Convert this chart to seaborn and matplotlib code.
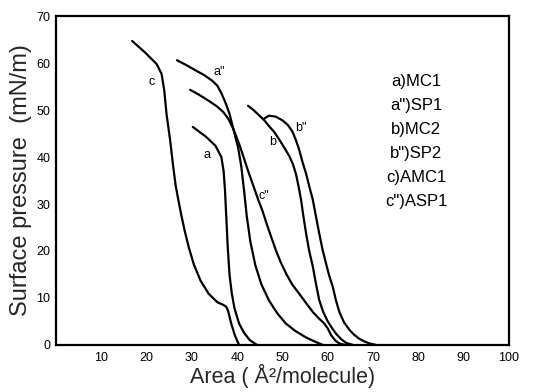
import matplotlib
matplotlib.use("Agg")
import matplotlib.pyplot as plt
import seaborn as sns
import pandas as pd

# --- data ---
c_x = [16.8, 19.6, 22.2, 23.3, 23.9, 24.4, 25.2, 25.8, 26.4, 26.9, 27.6, 28.4, 29.3, 30.4,
       31.9, 33.7, 35.6, 37.0, 37.6, 38.0, 38.7, 39.5, 40.4]
c_y = [64.7, 62.3, 59.8, 57.7, 54.1, 49.1, 43.5, 38.5, 34.0, 31.4, 27.9, 24.3, 20.8, 17.2,
       13.7, 10.9, 9.1, 8.5, 8.1, 7.2, 4.5, 2.0, 0.0]

a_x = [30.2, 33.0, 35.2, 36.5, 37.0, 37.3, 37.6, 37.9, 38.3, 38.8, 39.4, 40.4, 41.5, 42.8, 44.4]
a_y = [46.4, 44.4, 42.4, 40.0, 37.0, 33.0, 27.0, 21.0, 15.0, 11.0, 7.8, 4.6, 2.6, 1.0, 0.0]

a2_x = [26.7, 28.7, 30.7, 32.6, 34.4, 35.6, 36.5, 37.4, 38.3, 39.2, 40.2, 40.9, 41.5, 42.1,
        42.9, 44.0, 45.3, 47.0, 48.8, 50.7, 52.8, 55.2, 57.2, 58.9]
a2_y = [60.6, 59.6, 58.5, 57.5, 56.3, 55.2, 53.6, 51.6, 49.2, 45.8, 42.0, 38.0, 33.0, 27.5,
        22.0, 17.0, 13.0, 9.5, 6.8, 4.6, 3.0, 1.6, 0.7, 0.0]

c2_x = [29.6, 31.5, 33.5, 35.5, 36.9, 38.0, 38.9, 39.7, 40.5, 41.5, 42.6, 43.7, 44.6, 45.6,
        46.5, 47.5, 48.6, 49.7, 50.9, 52.2, 53.7, 55.3, 56.8, 58.2, 59.2, 60.0, 60.8, 61.7,
        62.6, 63.8]
c2_y = [54.3, 53.3, 52.1, 50.8, 49.6, 48.2, 46.5, 44.6, 42.6, 39.7, 36.5, 33.5, 31.0, 28.5,
        25.8, 23.0, 20.0, 17.4, 15.0, 12.8, 10.9, 8.8, 6.9, 5.5, 4.6, 3.5, 2.0, 0.9,
        0.3, 0.0]

b_x = [42.4, 43.6, 44.8, 46.0, 47.0, 48.2, 49.3, 50.4, 51.5, 52.3, 53.0, 53.6, 54.1, 54.6,
       55.2, 55.9, 56.7, 57.4, 58.1, 59.0, 60.0, 61.0, 61.9, 63.0, 64.1, 65.6]
b_y = [50.9, 50.0, 48.9, 47.8, 46.6, 45.3, 43.7, 42.0, 40.2, 38.5, 36.3, 33.5, 30.9, 27.5,
       23.8, 20.0, 16.7, 13.0, 9.6, 7.0, 5.0, 3.5, 2.3, 1.2, 0.4, 0.0]

b2_x = [46.0, 47.0, 48.5, 50.0, 51.2, 52.2, 53.0, 53.7, 54.4, 55.2, 55.9, 56.7, 57.4, 58.1,
        58.8, 59.6, 60.3, 61.1, 61.8, 62.6, 63.6, 64.8, 65.9, 67.0, 68.2, 69.3, 70.7]
b2_y = [48.2, 48.8, 48.6, 47.8, 46.8, 45.4, 43.5, 41.5, 39.0, 36.5, 33.8, 30.9, 27.3, 23.8,
        20.5, 17.4, 14.8, 12.4, 9.5, 6.9, 4.8, 3.2, 2.1, 1.3, 0.7, 0.3, 0.0]

curve_names = ["c", "a", 'a"', 'c"', "b", 'b"']
curve_label_x = [21.1, 33.3, 36.0, 45.9, 47.8, 54.1]
curve_label_y = [56.0, 40.4, 58.2, 31.6, 43.3, 46.1]

legend_lines = ["a)MC1", 'a")SP1', "b)MC2", 'b")SP2', "c)AMC1", 'c")ASP1']

x_ticks = [10, 20, 30, 40, 50, 60, 70, 80, 90, 100]
y_ticks = [0, 10, 20, 30, 40, 50, 60, 70]

# --- build long table ---
frames = []
for name, xs, ys in [("c", c_x, c_y), ("a", a_x, a_y), ('a"', a2_x, a2_y),
                     ('c"', c2_x, c2_y), ("b", b_x, b_y), ('b"', b2_x, b2_y)]:
    frames.append(pd.DataFrame({"area": xs, "pressure": ys, "curve": name}))
df = pd.concat(frames, ignore_index=True)

sns.set_style("white")
plt.rcParams["font.family"] = ["Liberation Sans", "DejaVu Sans"]

fig = plt.figure(figsize=(5.34, 3.92), dpi=100)
ax = fig.add_axes([0.105, 0.12, 0.848, 0.839])

sns.lineplot(data=df, x="area", y="pressure", hue="curve", units="curve",
             estimator=None, sort=False,
             palette={n: "black" for n in curve_names},
             linewidth=1.6, legend=False, ax=ax,
             solid_joinstyle="round", solid_capstyle="round")

for t, lx, ly in zip(curve_names, curve_label_x, curve_label_y):
    ax.text(lx, ly, t, fontsize=9, ha="center", va="center", color="black")

for i, t in enumerate(legend_lines):
    ax.text(79.5, 56.0 - i * 5.1, t, fontsize=12, ha="center", va="center", color="black")

ax.set_xlim(0, 100)
ax.set_ylim(0, 70)
ax.set_xticks(x_ticks)
ax.set_yticks(y_ticks)
ax.tick_params(axis="both", direction="in", length=7, width=1.3, labelsize=9,
               colors="black")
ax.tick_params(axis="x", pad=5)
ax.tick_params(axis="y", pad=4)
for s in ax.spines.values():
    s.set_color("black")
    s.set_linewidth(1.6)

ax.set_xlabel("Area ( Å²/molecule)", fontsize=15.5, labelpad=0)
ax.set_ylabel("Surface pressure  (mN/m)", fontsize=17, labelpad=3)

fig.savefig("out.png", dpi=100)
